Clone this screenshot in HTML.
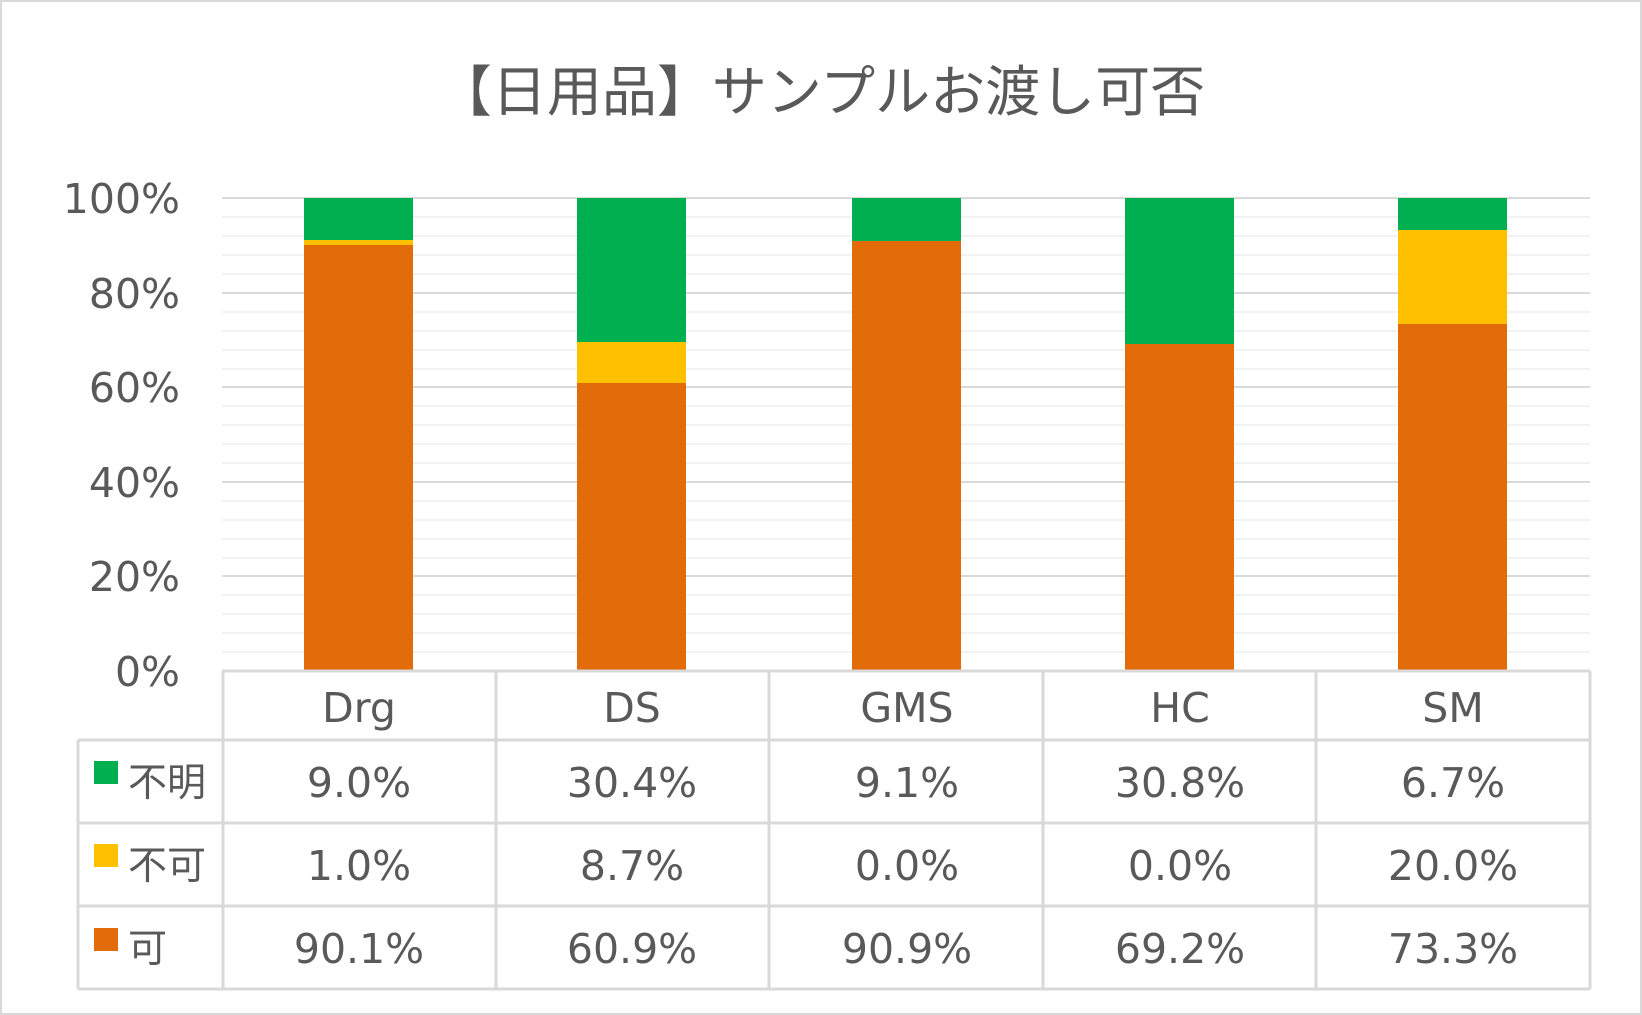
<!DOCTYPE html>
<html><head><meta charset="utf-8"><style>
html,body{margin:0;padding:0;background:#fff}
svg{display:block}
text{font-family:"DejaVu Sans","Noto Sans CJK JP",sans-serif;fill:#595959}
</style></head><body>
<svg width="1642" height="1015" viewBox="0 0 1642 1015" xmlns="http://www.w3.org/2000/svg">
<rect x="1" y="1" width="1640" height="1013" fill="#fff" stroke="#d9d9d9" stroke-width="2"/>
<text x="821" y="111" font-size="55" text-anchor="middle" style="font-family:'Noto Sans CJK JP',sans-serif">【日用品】サンプルお渡し可否</text>
<g stroke="#f2f2f2" stroke-width="2">
<line x1="222" x2="1590" y1="652" y2="652"/><line x1="222" x2="1590" y1="633" y2="633"/><line x1="222" x2="1590" y1="614" y2="614"/><line x1="222" x2="1590" y1="595" y2="595"/>
<line x1="222" x2="1590" y1="558" y2="558"/><line x1="222" x2="1590" y1="539" y2="539"/><line x1="222" x2="1590" y1="520" y2="520"/><line x1="222" x2="1590" y1="501" y2="501"/>
<line x1="222" x2="1590" y1="463" y2="463"/><line x1="222" x2="1590" y1="444" y2="444"/><line x1="222" x2="1590" y1="425" y2="425"/><line x1="222" x2="1590" y1="406" y2="406"/>
<line x1="222" x2="1590" y1="369" y2="369"/><line x1="222" x2="1590" y1="350" y2="350"/><line x1="222" x2="1590" y1="331" y2="331"/><line x1="222" x2="1590" y1="312" y2="312"/>
<line x1="222" x2="1590" y1="274" y2="274"/><line x1="222" x2="1590" y1="255" y2="255"/><line x1="222" x2="1590" y1="236" y2="236"/><line x1="222" x2="1590" y1="217" y2="217"/>
</g>
<g stroke="#d9d9d9" stroke-width="2">
<line x1="222" x2="1590" y1="198" y2="198"/><line x1="222" x2="1590" y1="293" y2="293"/><line x1="222" x2="1590" y1="387" y2="387"/><line x1="222" x2="1590" y1="482" y2="482"/><line x1="222" x2="1590" y1="576" y2="576"/>
</g>
<g font-size="41" text-anchor="end">
<text x="180" y="213">100%</text><text x="180" y="308">80%</text><text x="180" y="402">60%</text><text x="180" y="497">40%</text><text x="180" y="591">20%</text><text x="180" y="686">0%</text>
</g>
<g>
<rect x="304" y="245" width="109" height="426" fill="#e36c0a"/><rect x="304" y="240" width="109" height="5" fill="#ffc000"/><rect x="304" y="198" width="109" height="42" fill="#00b050"/>
<rect x="577" y="383" width="109" height="288" fill="#e36c0a"/><rect x="577" y="342" width="109" height="41" fill="#ffc000"/><rect x="577" y="198" width="109" height="144" fill="#00b050"/>
<rect x="852" y="241" width="109" height="430" fill="#e36c0a"/><rect x="852" y="198" width="109" height="43" fill="#00b050"/>
<rect x="1125" y="344" width="109" height="327" fill="#e36c0a"/><rect x="1125" y="198" width="109" height="146" fill="#00b050"/>
<rect x="1398" y="324" width="109" height="347" fill="#e36c0a"/><rect x="1398" y="230" width="109" height="94" fill="#ffc000"/><rect x="1398" y="198" width="109" height="32" fill="#00b050"/>
</g>
<g stroke="#d9d9d9" stroke-width="3" fill="none">
<line x1="222" x2="1590" y1="671" y2="671"/>
<line x1="78" x2="1590" y1="740" y2="740"/>
<line x1="78" x2="1590" y1="823" y2="823"/>
<line x1="78" x2="1590" y1="906" y2="906"/>
<line x1="78" x2="1590" y1="989" y2="989"/>
<line x1="78" x2="78" y1="740" y2="989"/>
<line x1="223" x2="223" y1="671" y2="989"/>
<line x1="496" x2="496" y1="671" y2="989"/>
<line x1="769" x2="769" y1="671" y2="989"/>
<line x1="1043" x2="1043" y1="671" y2="989"/>
<line x1="1316" x2="1316" y1="671" y2="989"/>
<line x1="1590" x2="1590" y1="671" y2="989"/>
</g>
<g font-size="41" text-anchor="middle">
<text x="359" y="722">Drg</text><text x="632" y="722">DS</text><text x="907" y="722">GMS</text><text x="1180" y="722">HC</text><text x="1453" y="722">SM</text>
<text x="359" y="797">9.0%</text><text x="632" y="797">30.4%</text><text x="907" y="797">9.1%</text><text x="1180" y="797">30.8%</text><text x="1453" y="797">6.7%</text>
<text x="359" y="880">1.0%</text><text x="632" y="880">8.7%</text><text x="907" y="880">0.0%</text><text x="1180" y="880">0.0%</text><text x="1453" y="880">20.0%</text>
<text x="359" y="963">90.1%</text><text x="632" y="963">60.9%</text><text x="907" y="963">90.9%</text><text x="1180" y="963">69.2%</text><text x="1453" y="963">73.3%</text>
</g>
<rect x="94" y="761" width="24" height="23" fill="#00b050"/>
<rect x="94" y="844" width="24" height="23" fill="#ffc000"/>
<rect x="94" y="928" width="24" height="23" fill="#e36c0a"/>
<g font-size="39" style="font-family:'Noto Sans CJK JP',sans-serif">
<text x="128" y="796">不明</text><text x="128" y="879">不可</text><text x="128" y="962">可</text>
</g>
</svg>
</body></html>
